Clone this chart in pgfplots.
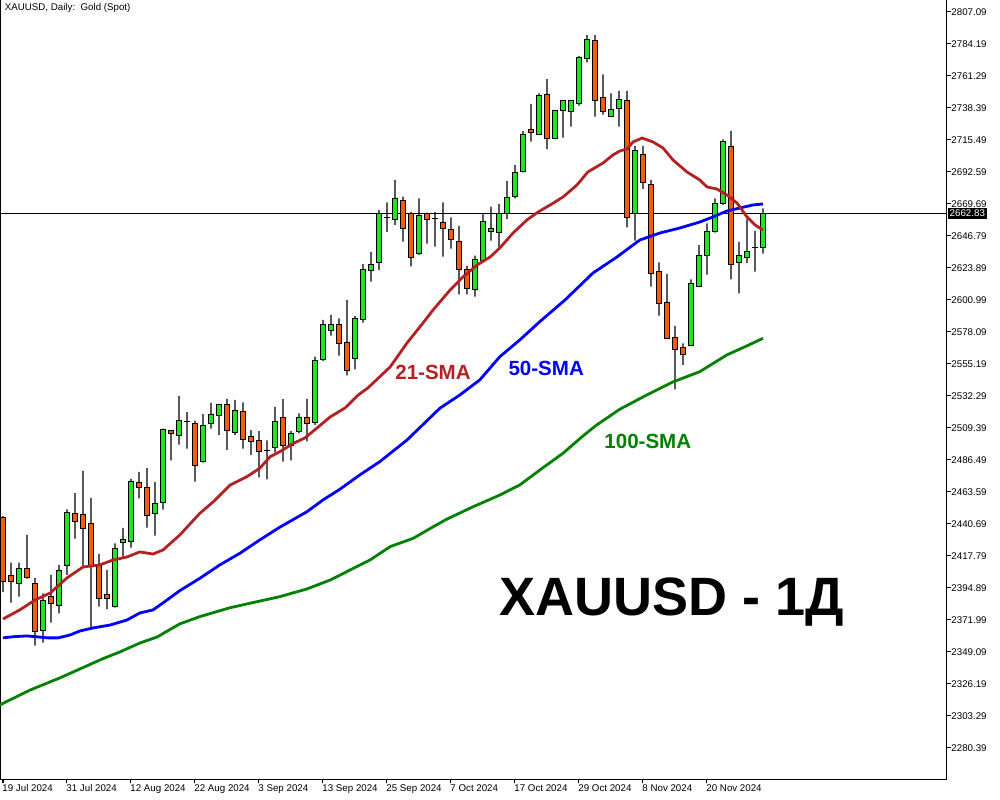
\documentclass[border=0pt]{standalone}
\usepackage{pgfplots}
\pgfplotsset{compat=1.18}
\usepackage{pgfplotstable}
\usepackage{fontspec}
\setmainfont{Liberation Sans}

\definecolor{bull}{RGB}{36,226,36}
\definecolor{bear}{RGB}{242,92,18}
\definecolor{smaA}{RGB}{178,34,34}
\definecolor{smaB}{RGB}{0,0,255}
\definecolor{smaC}{RGB}{0,128,0}

% daily candles: bar index, open, high, low, close
\pgfplotstableread{
i O H L C
0 2445.0 2446.4 2392.0 2399.2
1 2403.7 2413.0 2384.4 2399.7
2 2398.3 2413.0 2388.7 2409.0
3 2409.0 2432.9 2401.6 2402.6
4 2398.3 2402.1 2353.6 2363.7
5 2364.4 2391.1 2355.8 2385.6
6 2389.0 2404.2 2370.1 2384.0
7 2382.5 2411.4 2376.8 2407.6
8 2411.2 2451.2 2404.2 2449.1
9 2448.4 2462.7 2430.2 2442.7
10 2447.7 2478.7 2410.7 2437.6
11 2441.2 2459.3 2366.1 2411.2
12 2411.2 2419.3 2381.5 2387.6
13 2390.4 2407.8 2379.7 2387.6
14 2381.5 2426.9 2380.8 2423.3
15 2427.6 2437.9 2417.3 2429.3
16 2428.3 2472.9 2423.8 2471.3
17 2470.6 2477.9 2459.1 2467.0
18 2467.0 2480.6 2438.1 2447.0
19 2448.4 2470.6 2432.4 2455.5
20 2456.3 2509.0 2451.0 2508.5
21 2507.3 2508.0 2486.2 2505.6
22 2504.2 2532.3 2497.4 2514.9
23 2513.7 2520.7 2494.6 2514.1
24 2512.8 2514.6 2471.0 2482.7
25 2485.3 2519.4 2484.6 2511.4
26 2512.8 2527.3 2508.9 2519.2
27 2518.5 2526.6 2504.2 2525.9
28 2525.9 2530.2 2493.7 2507.8
29 2506.3 2529.5 2504.2 2522.1
30 2521.4 2527.8 2494.6 2501.3
31 2503.5 2507.8 2490.1 2499.9
32 2500.1 2507.1 2474.1 2492.7
33 2493.0 2500.6 2472.7 2493.4
34 2495.6 2524.5 2492.0 2514.2
35 2517.1 2530.0 2485.3 2497.0
36 2497.0 2507.1 2486.3 2505.6
37 2507.1 2519.9 2505.6 2517.1
38 2517.1 2530.2 2499.9 2512.8
39 2513.5 2560.4 2511.6 2557.9
40 2558.6 2586.7 2557.4 2583.1
41 2579.3 2590.3 2575.5 2583.6
42 2583.1 2587.9 2561.2 2569.5
43 2570.8 2601.0 2547.1 2550.7
44 2559.3 2589.5 2551.4 2587.9
45 2587.2 2626.6 2584.8 2622.5
46 2621.8 2635.4 2614.1 2626.6
47 2628.0 2665.4 2622.5 2662.6
48 2659.7 2670.9 2649.7 2660.1
49 2658.8 2686.9 2654.7 2673.5
50 2672.4 2674.9 2642.7 2652.3
51 2663.1 2664.0 2625.1 2631.3
52 2634.2 2673.8 2633.2 2661.8
53 2662.8 2663.5 2641.3 2658.5
54 2659.4 2663.8 2639.2 2659.0
55 2656.6 2670.9 2632.0 2652.0
56 2651.6 2660.2 2637.7 2644.5
57 2642.5 2654.0 2605.1 2623.0
58 2622.5 2625.4 2605.1 2609.4
59 2608.2 2632.8 2603.4 2630.1
60 2629.6 2663.0 2628.4 2657.3
61 2649.9 2667.8 2643.5 2652.3
62 2649.4 2669.7 2638.4 2663.0
63 2663.0 2686.2 2658.8 2674.5
64 2675.0 2697.6 2673.8 2692.4
65 2692.8 2722.0 2692.4 2719.6
66 2723.2 2741.3 2714.3 2721.0
67 2719.6 2748.9 2719.1 2747.5
68 2748.2 2759.0 2708.9 2716.7
69 2716.7 2737.0 2716.2 2736.3
70 2736.8 2744.1 2717.1 2743.4
71 2736.0 2744.1 2725.0 2743.4
72 2741.8 2775.6 2740.0 2774.7
73 2774.0 2790.6 2771.1 2787.6
74 2786.9 2790.6 2732.2 2743.9
75 2746.1 2762.5 2733.6 2736.0
76 2732.5 2748.9 2732.2 2737.5
77 2738.2 2750.6 2725.0 2744.6
78 2743.9 2750.6 2652.9 2660.2
79 2663.0 2711.2 2643.5 2708.1
80 2704.8 2711.2 2680.5 2685.2
81 2683.8 2686.9 2610.5 2620.1
82 2621.5 2628.0 2589.8 2598.7
83 2598.9 2619.6 2573.1 2573.6
84 2574.3 2582.4 2537.1 2565.7
85 2567.2 2570.0 2554.5 2562.2
86 2568.3 2615.8 2568.1 2613.0
87 2611.0 2640.2 2610.6 2633.0
88 2633.0 2655.9 2619.1 2650.2
89 2649.9 2673.8 2649.2 2670.2
90 2670.2 2716.0 2669.0 2714.6
91 2711.0 2722.0 2615.8 2626.6
92 2627.7 2642.5 2605.8 2633.0
93 2631.6 2658.8 2627.3 2635.9
94 2638.2 2650.4 2621.3 2638.6
95 2638.7 2666.6 2634.2 2662.83
}\ohlc

% 21-period simple moving average
\pgfplotstableread{
i v
0 2372.7
2.1 2379.2
4.0 2386.3
5.9 2391.3
8.0 2402.1
10.0 2409.9
12.1 2411.4
13.75 2414.9
15.5 2417.1
17.1 2420.7
18.75 2419.2
20.0 2422.1
22.1 2432.8
24.6 2448.3
26.3 2456.7
28.4 2468.6
30.5 2474.6
32.1 2480.6
33.4 2488.9
34.6 2492.4
36.3 2498.4
37.75 2502.3
39.25 2509.4
40.9 2517.3
42.75 2523.7
44.4 2533.0
45.6 2538.0
48.4 2553.1
50.5 2570.2
52.5 2584.5
53.75 2593.8
55.9 2608.2
57.5 2617.5
59.25 2626.0
60.9 2631.8
62.1 2638.2
63.75 2648.9
65.5 2658.3
66.9 2664.0
68.4 2669.0
70.0 2674.7
71.75 2683.3
73.1 2692.6
75.0 2699.0
76.25 2704.8
77.1 2707.6
78.0 2709.1
78.75 2714.1
79.9 2716.9
81.25 2714.1
82.5 2709.8
83.75 2701.2
85.5 2692.6
87.1 2686.9
88.0 2681.9
89.25 2680.4
90.5 2676.1
91.75 2670.4
93.0 2660.4
94.0 2654.7
95.0 2651.1
}\smaTwentyOne

% 50-period simple moving average
\pgfplotstableread{
i v
0 2359.2
1.25 2360.0
3.0 2360.6
5.6 2359.2
6.9 2359.2
8.4 2361.3
9.6 2364.1
11.25 2366.3
13.4 2368.4
15.5 2372.0
17.1 2377.0
18.75 2379.2
20.0 2384.2
22.1 2393.0
24.6 2401.8
27.1 2411.4
29.6 2419.7
32.1 2429.3
34.6 2438.4
38.0 2449.5
40.0 2457.9
42.1 2465.5
44.6 2475.8
47.1 2485.3
50.5 2500.8
54.6 2523.5
57.1 2533.0
59.6 2543.8
62.1 2560.4
64.6 2572.4
67.1 2585.5
70.25 2601.0
73.75 2620.3
76.75 2631.8
79.6 2643.9
82.1 2648.9
84.6 2652.5
87.1 2656.8
88.75 2660.4
90.5 2664.7
92.1 2666.8
93.75 2669.0
95.0 2669.7
}\smaFifty

% 100-period simple moving average
\pgfplotstableread{
i v
-0.4 2311.2
3.4 2321.9
7.1 2330.5
12.4 2344.1
14.6 2349.1
17.1 2355.5
19.25 2359.8
22.1 2369.2
24.6 2374.4
28.4 2380.8
30.9 2384.0
34.6 2388.7
38.0 2394.2
40.9 2400.6
43.4 2407.8
45.9 2415.0
48.4 2424.5
51.3 2430.5
53.8 2438.8
55.46 2444.1
58.79 2453.1
62.1 2461.4
64.6 2468.6
67.1 2479.3
70.0 2491.3
72.5 2503.7
74.2 2511.5
77.1 2522.8
80.46 2533.0
83.8 2542.5
87.1 2549.7
90.46 2561.6
92.96 2568.1
95.0 2573.6
}\smaHundred

\tikzset{ticklabelfont/.style={font=\fontsize{7.3}{8}\selectfont}}
\pgfplotsset{
  chartframe/.style={
    scale only axis, width=710pt, height=584.25pt,
    xmin=-0.375, xmax=117.96, ymin=2258.2, ymax=2815.68,
    at={(0pt,15.75pt)}, anchor=south west,
  },
}

\begin{document}
\begin{tikzpicture}
\path[use as bounding box] (0,0) rectangle (750pt,600pt);

% frame, price scale, date scale and last-price line
\begin{axis}[chartframe,
  axis line style={black, line width=0.75pt},
  tick align=outside, major tick length=3.2pt,
  tick style={black, line width=0.75pt},
  xtick pos=bottom, ytick pos=right, yticklabel pos=right,
  xtick={0,8,...,88},
  xticklabels={19 Jul 2024,31 Jul 2024,12 Aug 2024,22 Aug 2024,3 Sep 2024,13 Sep 2024,25 Sep 2024,7 Oct 2024,17 Oct 2024,29 Oct 2024,8 Nov 2024,20 Nov 2024},
  ytick={2280.39,2303.29,2326.19,2349.09,2371.99,2394.89,2417.79,2440.69,2463.59,2486.49,2509.39,2532.29,2555.19,2578.09,2600.99,2623.89,2646.79,2669.69,2692.59,2715.49,2738.39,2761.29,2784.19,2807.09},
  yticklabels={2280.39,2303.29,2326.19,2349.09,2371.99,2394.89,2417.79,2440.69,2463.59,2486.49,2509.39,2532.29,2555.19,2578.09,2600.99,2623.89,2646.79,2669.69,2692.59,2715.49,2738.39,2761.29,2784.19,2807.09},
  xticklabel style={ticklabelfont, anchor=north west, inner sep=0pt, xshift=-0.6pt, yshift=-0.6pt},
  yticklabel style={ticklabelfont, anchor=west, inner sep=0pt, xshift=0.2pt},
  minor tick num=0,
]
\addplot[black, line width=0.75pt] coordinates {(-0.375,2662.83) (117.96,2662.83)};
\end{axis}

% wicks: high-low range of each day
\begin{axis}[chartframe, hide axis, ybar stacked, bar width=0.8pt]
\addplot[draw=none, fill=none] table[x=i, y=L] {\ohlc};
\addplot[draw=none, fill=black] table[x=i, y expr={\thisrow{H}-\thisrow{L}}] {\ohlc};
\end{axis}

% bodies: open-close range, rising days green, falling days orange
\begin{axis}[chartframe, hide axis, ybar stacked, bar width=3.4pt]
\addplot[draw=none, fill=none] table[x=i, y expr={min(\thisrow{O},\thisrow{C})}] {\ohlc};
\addplot[fill=bull, draw=black, line width=0.75pt] table[x=i, y expr={max(\thisrow{C}-\thisrow{O},0)}] {\ohlc};
\addplot[fill=bear, draw=black, line width=0.75pt] table[x=i, y expr={max(\thisrow{O}-\thisrow{C},0)}] {\ohlc};
\end{axis}

% moving averages and annotations
\begin{axis}[chartframe, hide axis, clip mode=individual]
\addplot[smaC, line width=2.1pt] table[x=i, y=v] {\smaHundred};
\addplot[smaB, line width=2.1pt] table[x=i, y=v] {\smaFifty};
\addplot[smaA, line width=2.1pt] table[x=i, y=v] {\smaTwentyOne};

\node[font=\fontsize{15.4}{17}\bfseries\selectfont, text=smaA] at (axis cs:53.75,2549.5) {21-SMA};
\node[font=\fontsize{15.4}{17}\bfseries\selectfont, text=smaB] at (axis cs:67.9,2552.3) {50-SMA};
\node[font=\fontsize{15.4}{17}\bfseries\selectfont, text=smaC] at (axis cs:80.6,2500.1) {100-SMA};

\node[font=\fontsize{40.5}{44}\bfseries\selectfont, anchor=base west, inner sep=0pt] at (axis cs:62.0,2375.1) {XAUUSD - 1Д};

\node[ticklabelfont, anchor=north west, inner sep=0pt] at ([xshift=3.5pt, yshift=-2.6pt]rel axis cs:0,1) {XAUUSD, Daily:\ \ Gold (Spot)};

\node[ticklabelfont, anchor=west, fill=black, text=white, inner xsep=1.2pt, inner ysep=1.3pt] at ([xshift=0.9pt]axis cs:117.96,2662.83) {2662.83};
\end{axis}
\end{tikzpicture}
\end{document}
